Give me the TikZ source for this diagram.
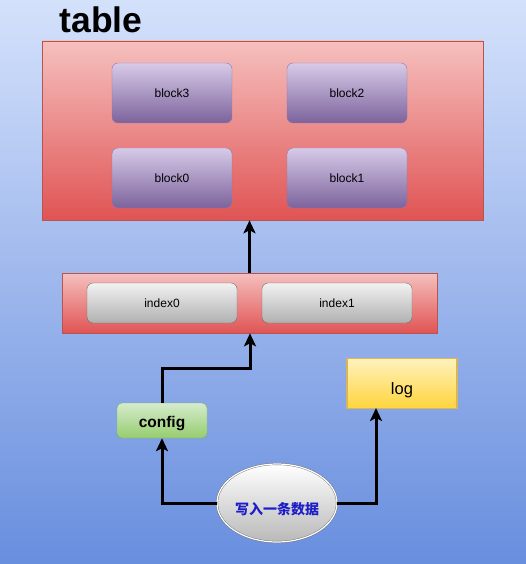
\documentclass[tikz,border=0pt]{standalone}
\usepackage{fontspec}
\setmainfont{Liberation Sans}
\newfontfamily\cjk{Noto Sans CJK SC}
\usetikzlibrary{arrows.meta,shapes.geometric,shadings}
\definecolor{bgtop}{RGB}{212,225,251}
\definecolor{bgbot}{RGB}{104,142,222}
\definecolor{redtop}{RGB}{245,192,190}
\definecolor{redbot}{RGB}{224,84,84}
\definecolor{redline}{RGB}{184,84,80}
\definecolor{purtop}{RGB}{215,202,232}
\definecolor{purbot}{RGB}{124,99,156}
\definecolor{purline}{RGB}{150,115,166}
\definecolor{graytop}{RGB}{242,242,242}
\definecolor{graybot}{RGB}{176,176,176}
\definecolor{ellbot}{RGB}{185,185,185}
\definecolor{grayline}{RGB}{110,110,110}
\definecolor{greentop}{RGB}{213,235,205}
\definecolor{greenbot}{RGB}{150,205,110}
\definecolor{greenline}{RGB}{130,179,102}
\definecolor{yeltop}{RGB}{255,242,190}
\definecolor{yelbot}{RGB}{255,212,60}
\definecolor{yelline}{RGB}{214,182,86}
\definecolor{cjkblue}{RGB}{30,30,200}
\newcommand{\lowered}[2]{\raisebox{-#1}[0.7em][0pt]{#2}}
\begin{document}
\begin{tikzpicture}[x=1pt,y=-1pt,
  container/.style={draw=redline,top color=redtop,bottom color=redbot,inner sep=0,line width=0.6pt},
  blockbox/.style={draw=purline,top color=purtop,bottom color=purbot,rounded corners=6pt,minimum width=120pt,minimum height=60pt,inner sep=0,font=\fontsize{12}{14}\selectfont},
  idxbox/.style={draw=grayline,top color=graytop,bottom color=graybot,rounded corners=6pt,minimum width=150pt,minimum height=40pt,inner sep=0,font=\fontsize{12}{14}\selectfont},
  conn/.style={line width=3pt,-{Stealth[length=13pt,width=12pt,inset=3pt]}}
]
\useasboundingbox (0,0) rectangle (526,564);
\shade[top color=bgtop,bottom color=bgbot] (0,0) rectangle (526,564);
\node[font=\bfseries\fontsize{35.5}{38}\selectfont] (title) at (101,20) {table};
\node[container,minimum width=441pt,minimum height=179pt] (table) at (262.5,130.5) {};
\node[blockbox] (b3) at (172,93) {block3};
\node[blockbox] (b2) at (347,93) {block2};
\node[blockbox] (b0) at (172,178) {block0};
\node[blockbox] (b1) at (347,178) {block1};
\node[container,minimum width=375pt,minimum height=60pt] (index) at (249.5,303) {};
\node[idxbox] (i0) at (162,303) {index0};
\node[idxbox] (i1) at (337,303) {index1};
\node[draw=greenline,top color=greentop,bottom color=greenbot,rounded corners=5pt,minimum width=90pt,minimum height=35pt,inner sep=0,font=\bfseries\fontsize{15.5}{17}\selectfont] (config) at (162,420.5) {\lowered{2pt}{config}};
\node[draw=yelline,double=yelline,double distance=0.8pt,top color=yeltop,bottom color=yelbot,minimum width=110pt,minimum height=50pt,inner sep=0,font=\fontsize{16.5}{18}\selectfont] (log) at (402,383.5) {\lowered{5pt}{log}};
\node[ellipse,draw=grayline,double=white,double distance=1.2pt,top color=white,bottom color=ellbot,minimum width=120pt,minimum height=78pt,inner sep=0,text=cjkblue,font=\cjk\bfseries\fontsize{14}{16}\selectfont] (write) at (277,503) {\lowered{7pt}{写入一条数据}};
\coordinate (m1) at (250,368);
\coordinate (login) at (376,408);
\draw[conn] (index.north) -- (index.north |- table.south);
\draw[conn] (config.north) |- (m1) -- (m1 |- index.south);
\draw[conn] (write.west) -| (config.south);
\draw[conn] (write.east) -| (login);
\end{tikzpicture}
\end{document}
